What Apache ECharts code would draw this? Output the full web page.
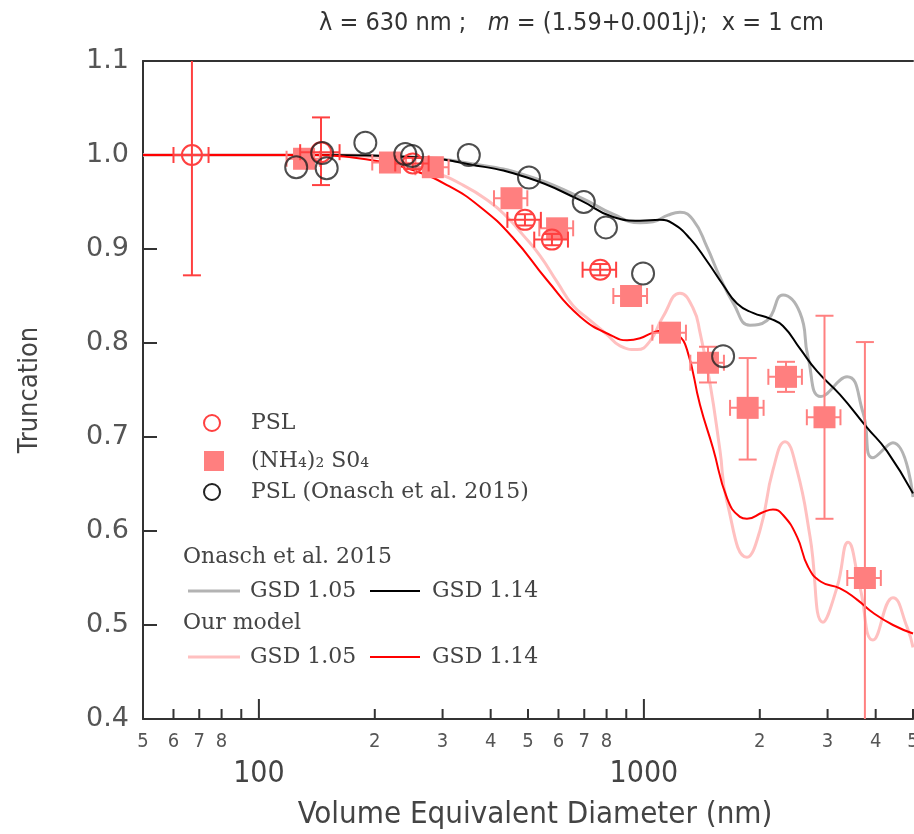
<!DOCTYPE html>
<html><head><meta charset="utf-8">
<script src="https://cdn.jsdelivr.net/npm/echarts@6/dist/echarts.min.js"></script>
<style>html,body{margin:0;padding:0;background:#fff}#c{width:914px;height:834px}</style>
</head><body><div id="c"></div>
<script>
// ---------- data ----------
const onasch105 = [[50,1.000],[150,1.000],[250,0.998],[354,0.991],[497,0.978],[683,0.955],[832,0.937],[977,0.928],[1056,0.929],[1155,0.936],[1241,0.939],[1342,0.931],[1459,0.902],[1576,0.870],[1704,0.843],[1886,0.819],[2088,0.824],[2298,0.851],[2544,0.832],[2669,0.785],[2884,0.743],[3370,0.764],[3708,0.726],[3936,0.678],[4436,0.694],[5000,0.636]];
const onasch114 = [[50,1.0],[150,1.0],[250,0.998],[354,0.990],[497,0.976],[683,0.952],[832,0.934],[977,0.930],[1101,0.931],[1190,0.927],[1318,0.911],[1459,0.887],[1605,0.862],[1745,0.842],[1920,0.832],[2126,0.826],[2298,0.818],[2544,0.794],[2816,0.770],[3231,0.745],[3798,0.710],[4280,0.685],[5000,0.640]];
const model105 = [[50,1.0],[150,1.0],[206,0.997],[278,0.983],[339,0.968],[398,0.950],[441,0.934],[485,0.915],[537,0.893],[595,0.865],[654,0.840],[725,0.824],[802,0.809],[867,0.797],[959,0.793],[1037,0.802],[1121,0.828],[1241,0.853],[1342,0.837],[1399,0.811],[1485,0.757],[1576,0.686],[1644,0.631],[1852,0.572],[2003,0.601],[2164,0.665],[2325,0.695],[2498,0.665],[2701,0.594],[2918,0.503],[3174,0.540],[3390,0.588],[3641,0.540],[3936,0.484],[4436,0.529],[4824,0.498],[5000,0.476]];
const model114 = [[50,1.0],[140,1.0],[169,0.998],[206,0.993],[251,0.984],[308,0.968],[375,0.945],[457,0.912],[560,0.867],[683,0.828],[832,0.807],[904,0.803],[977,0.805],[1056,0.811],[1148,0.814],[1219,0.810],[1294,0.793],[1399,0.734],[1512,0.688],[1644,0.635],[1776,0.615],[1852,0.613],[2038,0.620],[2164,0.623],[2298,0.617],[2498,0.594],[2669,0.562],[2884,0.546],[3231,0.539],[3577,0.527],[3936,0.513],[4436,0.500],[5000,0.491]];

// PSL (this work): diameter, truncation, x error, y low, y high
const pslD    = [67, 145, 251, 491, 577, 770];
const pslV    = [1.000, 1.003, 0.991, 0.931, 0.910, 0.878];
const pslXErr = [7, 17, 25, 49, 58, 77];
const pslYLo  = [0.872, 0.968, 0.985, 0.925, 0.904, 0.872];
const pslYHi  = [1.128, 1.040, 0.997, 0.937, 0.916, 0.884];

// (NH4)2SO4
const amsD    = [131, 219, 283, 453, 595, 926, 1169, 1467, 1860, 2339, 2945, 3750];
const amsV    = [0.996, 0.992, 0.987, 0.954, 0.922, 0.850, 0.811, 0.779, 0.731, 0.764, 0.721, 0.550];
const amsXErr = [13, 22, 28, 45, 60, 93, 117, 147, 186, 234, 295, 375];
const amsYLo  = [0.991, 0.987, 0.982, 0.949, 0.917, 0.845, 0.806, 0.758, 0.676, 0.748, 0.613, 0.300];
const amsYHi  = [1.001, 0.997, 0.992, 0.959, 0.927, 0.855, 0.816, 0.796, 0.784, 0.780, 0.829, 0.801];

// PSL (Onasch et al. 2015)
const onaschD = [125, 146, 150, 189, 240, 250, 351, 503, 698, 797, 995, 1606];
const onaschV = [0.987, 1.002, 0.986, 1.013, 1.001, 0.999, 1.000, 0.976, 0.950, 0.923, 0.874, 0.786];

// axis ticks
const xTickValues  = [50,60,70,80,90,100,200,300,400,500,600,700,800,900,1000,2000,3000,4000,5000];
const xMinorLabels = ['5','6','7','8','','','2','3','4','5','6','7','8','','','2','3','4','5'];
const xMajorTicks  = [100, 1000];
const xMajorLabels = ['100', '1000'];

// ---------- build ----------
const FONT_SANS = '"Liberation Sans Narrow","DejaVu Sans Condensed","Roboto",sans-serif';
const FONT_SERIF = '"DejaVu Serif","Liberation Serif",serif';
const Y_MIN = 0.4, Y_MAX = 1.1;

function zipRows(d, v, xe, lo, hi){ return d.map((x,i)=>[x, v[i], xe[i], lo[i], hi[i]]); }

function errRender(kind){
  return function(params, api){
    const cs = params.coordSys;
    const top = cs.y, bot = cs.y + cs.height;
    const d = api.value(0), v = api.value(1), xe = api.value(2), lo = api.value(3), hi = api.value(4);
    const c = api.coord([d, v]);
    const xl = api.coord([d - xe, v])[0], xr = api.coord([d + xe, v])[0];
    let yl = api.coord([d, lo])[1], yh = api.coord([d, hi])[1];
    const col = kind === 'circle' ? '#ff4040' : '#ff8080';
    const st = {stroke: col, lineWidth: 2, fill: null};
    const ch = [];
    const loClip = yl > bot, hiClip = yh < top;
    if (loClip) yl = bot; if (hiClip) yh = top;
    ch.push({type:'line', shape:{x1:c[0], y1:yh, x2:c[0], y2:yl}, style:st});
    if (!loClip) ch.push({type:'line', shape:{x1:c[0]-9, y1:yl, x2:c[0]+9, y2:yl}, style:st});
    if (!hiClip) ch.push({type:'line', shape:{x1:c[0]-9, y1:yh, x2:c[0]+9, y2:yh}, style:st});
    ch.push({type:'line', shape:{x1:xl, y1:c[1], x2:xr, y2:c[1]}, style:st});
    ch.push({type:'line', shape:{x1:xl, y1:c[1]-8, x2:xl, y2:c[1]+8}, style:st});
    ch.push({type:'line', shape:{x1:xr, y1:c[1]-8, x2:xr, y2:c[1]+8}, style:st});
    if (kind === 'circle') {
      ch.push({type:'circle', shape:{cx:c[0], cy:c[1], r:10}, style:{stroke:col, lineWidth:2, fill:null}});
    } else {
      ch.push({type:'rect', shape:{x:c[0]-11, y:c[1]-11, width:22, height:22}, style:{fill:'#ff7f7f'}});
    }
    return {type:'group', children: ch};
  };
}

function tickRender(params, api){
  const cs = params.coordSys;
  const bot = cs.y + cs.height;
  const v = api.value(0);
  const idx = api.value(1);
  const p = api.coord([v, Y_MIN]);
  const major = xMajorTicks.indexOf(v) >= 0;
  const len = major ? 20 : 10;
  const ch = [{type:'line', shape:{x1:p[0], y1:bot, x2:p[0], y2:bot-len}, style:{stroke:'#333', lineWidth:2}}];
  const lab = xMinorLabels[idx];
  if (lab) ch.push({type:'text', x:p[0], y:bot+23, style:{text:lab, fontSize:20, fontFamily:FONT_SANS, fill:'#555', align:'center', verticalAlign:'middle'}});
  const mi = xMajorTicks.indexOf(v);
  if (mi >= 0) ch.push({type:'text', x:p[0], y:bot+55, style:{text:xMajorLabels[mi], fontSize:30, fontFamily:FONT_SANS, fill:'#444', align:'center', verticalAlign:'middle'}});
  return {type:'group', children: ch};
}

const chart = echarts.init(document.getElementById('c'), null, {renderer:'canvas'});

const LF = '22px ' + FONT_SERIF;
const legendGraphics = [
  {type:'circle', shape:{cx:212, cy:423, r:8}, style:{stroke:'#ff4040', lineWidth:2, fill:null}},
  {type:'text', x:251, y:423, style:{text:'PSL', font:LF, fill:'#444', verticalAlign:'middle'}},
  {type:'rect', shape:{x:204, y:451, width:20, height:20}, style:{fill:'#ff7f7f'}},
  {type:'text', x:251, y:461, style:{text:'(NH₄)₂ S0₄', font:LF, fill:'#444', verticalAlign:'middle'}},
  {type:'circle', shape:{cx:212, cy:492, r:8}, style:{stroke:'#222', lineWidth:2, fill:null}},
  {type:'text', x:251, y:492, style:{text:'PSL (Onasch et al. 2015)', font:LF, fill:'#444', verticalAlign:'middle'}},
  {type:'text', x:183, y:557, style:{text:'Onasch et al. 2015', font:LF, fill:'#444', verticalAlign:'middle'}},
  {type:'line', shape:{x1:188, y1:591, x2:240, y2:591}, style:{stroke:'#b3b3b3', lineWidth:3}},
  {type:'text', x:250, y:591, style:{text:'GSD 1.05', font:LF, fill:'#444', verticalAlign:'middle'}},
  {type:'line', shape:{x1:370, y1:591, x2:420, y2:591}, style:{stroke:'#000', lineWidth:2}},
  {type:'text', x:432, y:591, style:{text:'GSD 1.14', font:LF, fill:'#444', verticalAlign:'middle'}},
  {type:'text', x:183, y:623, style:{text:'Our model', font:LF, fill:'#444', verticalAlign:'middle'}},
  {type:'line', shape:{x1:188, y1:657, x2:240, y2:657}, style:{stroke:'#ffc0c0', lineWidth:3}},
  {type:'text', x:250, y:657, style:{text:'GSD 1.05', font:LF, fill:'#444', verticalAlign:'middle'}},
  {type:'line', shape:{x1:370, y1:657, x2:420, y2:657}, style:{stroke:'#ff0000', lineWidth:2}},
  {type:'text', x:432, y:657, style:{text:'GSD 1.14', font:LF, fill:'#444', verticalAlign:'middle'}}
];

const option = {
  animation: false,
  backgroundColor: '#fff',
  title: {
    text: '{a|λ = 630 nm ;   }{i|m}{a| = (1.59+0.001j);  x = 1 cm}',
    left: 314, top: 6,
    textStyle: {fontWeight: 'normal', rich: {
      a: {fontSize: 25, fontFamily: FONT_SANS, color: '#333', fontWeight: 'normal'},
      i: {fontSize: 25, fontFamily: FONT_SANS, color: '#333', fontStyle: 'italic', fontWeight: 'normal'}
    }}
  },
  grid: {left: 143, right: 1, top: 61, bottom: 115, containLabel: false, outerBoundsMode: 'none'},
  xAxis: [{
    type: 'log', logBase: 10, min: 50, max: 5000,
    axisLine: {show: true, onZero: false, lineStyle: {color: '#333', width: 2}},
    axisTick: {show: false}, axisLabel: {show: false}, splitLine: {show: false},
    name: 'Volume Equivalent Diameter (nm)', nameLocation: 'middle', nameGap: 80,
    nameTextStyle: {fontSize: 31, fontFamily: FONT_SANS, color: '#444', padding: [0, 0, 0, 14]}
  }, {
    type: 'log', logBase: 10, min: 50, max: 5000, position: 'top',
    axisLine: {show: true, onZero: false, lineStyle: {color: '#333', width: 2}},
    axisTick: {show: false}, axisLabel: {show: false}, splitLine: {show: false}
  }],
  yAxis: {
    type: 'value', min: Y_MIN, max: Y_MAX, interval: 0.1,
    axisLine: {show: true, lineStyle: {color: '#333', width: 2}},
    axisTick: {show: true, inside: true, length: 14, lineStyle: {color: '#333', width: 2}},
    axisLabel: {fontSize: 27, fontFamily: '"DejaVu Sans",sans-serif', color: '#555', margin: 14, formatter: v => v.toFixed(1)},
    splitLine: {show: false},
    name: 'Truncation', nameLocation: 'middle', nameGap: 100,
    nameTextStyle: {fontSize: 27, fontFamily: FONT_SANS, color: '#444'}
  },
  graphic: legendGraphics,
  series: [
    {type:'line', name:'Onasch GSD 1.05', data: onasch105, smooth: 0.5, showSymbol:false, lineStyle:{color:'#b3b3b3', width:3}, z:2},
    {type:'line', name:'Onasch GSD 1.14', data: onasch114, smooth: 0.5, showSymbol:false, lineStyle:{color:'#000', width:2}, z:3},
    {type:'line', name:'Model GSD 1.05', data: model105, smooth: 0.5, showSymbol:false, lineStyle:{color:'#ffc0c0', width:3}, z:2},
    {type:'line', name:'Model GSD 1.14', data: model114, smooth: 0.5, showSymbol:false, lineStyle:{color:'#ff0000', width:2}, z:3},
    {type:'custom', name:'(NH4)2SO4', renderItem: errRender('square'), data: zipRows(amsD, amsV, amsXErr, amsYLo, amsYHi), encode:{x:0, y:1}, z:4},
    {type:'custom', name:'PSL', renderItem: errRender('circle'), data: zipRows(pslD, pslV, pslXErr, pslYLo, pslYHi), encode:{x:0, y:1}, z:5},
    {type:'scatter', name:'PSL Onasch', data: onaschD.map((d,i)=>[d, onaschV[i]]), symbol:'circle', symbolSize:22,
      itemStyle:{color:'rgba(0,0,0,0)', borderColor:'#222', borderWidth:2}, z:6},
    {type:'custom', name:'ticks', renderItem: tickRender, data: xTickValues.map((v,i)=>[v, i]), encode:{x:0}, silent:true, z:10}
  ]
};
chart.setOption(option);
</script>
</body></html>
